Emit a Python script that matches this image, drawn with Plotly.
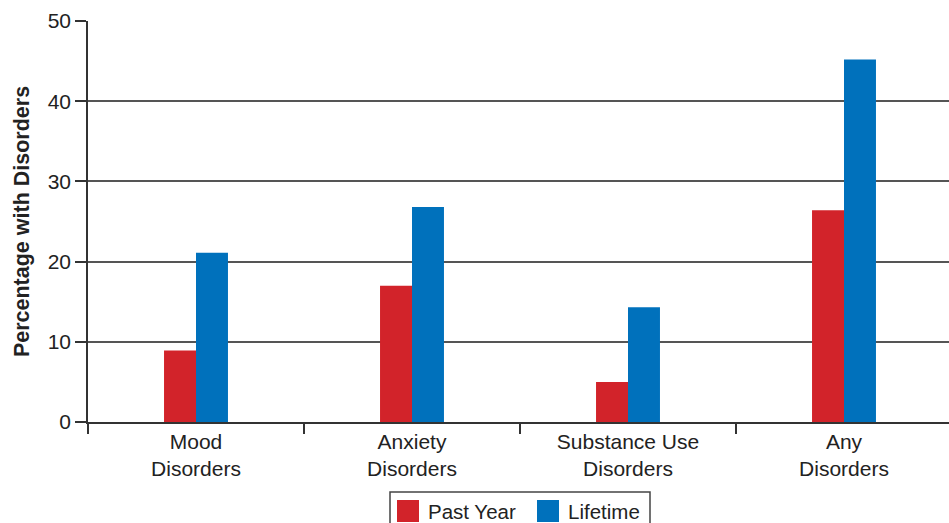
import plotly.graph_objects as go

# Prevalence of disorders (percent), past-year vs lifetime
categories = ["Mood<br>Disorders", "Anxiety<br>Disorders", "Substance Use<br>Disorders", "Any<br>Disorders"]
past_year = [8.9, 17.0, 5.0, 26.4]
lifetime = [21.1, 26.8, 14.3, 45.2]
y_ticks = [0, 10, 20, 30, 40, 50]
series_names = ["Past Year", "Lifetime"]

RED = "#D2232A"
BLUE = "#0071BC"
TEXT = "#222222"
FONT = "Liberation Sans, Arial, Helvetica, sans-serif"

W, H = 949, 523
ML, MR, MT, MB = 88, 0, 21, 101
plot_w = W - ML - MR
plot_h = H - MT - MB
cat_px = 216  # pixel width of one category slot


def px_x(px):
    return (px - ML) / plot_w


def px_y(py):
    return (H - MB - py) / plot_h


fig = go.Figure()
fig.add_trace(go.Bar(x=categories, y=past_year, name=series_names[0],
                     marker=dict(color=RED, line=dict(width=0))))
fig.add_trace(go.Bar(x=categories, y=lifetime, name=series_names[1],
                     marker=dict(color=BLUE, line=dict(width=0))))

# Legend box below the chart, with large square swatches
shapes = [dict(type="rect", xref="paper", yref="paper",
               x0=px_x(390), x1=px_x(650), y0=px_y(492), y1=px_y(532),
               line=dict(color="#444444", width=1.5), fillcolor="white")]
annotations = []
for name, color, sx in zip(series_names, [RED, BLUE], [397, 537]):
    shapes.append(dict(type="rect", xref="paper", yref="paper",
                       x0=px_x(sx), x1=px_x(sx + 22), y0=px_y(500), y1=px_y(522),
                       line=dict(width=0), fillcolor=color))
    annotations.append(dict(text=name, xref="paper", yref="paper",
                            x=px_x(sx + 29), y=px_y(511), xanchor="left", yanchor="middle",
                            showarrow=False, font=dict(size=20.5, color=TEXT)))

fig.update_layout(
    width=W, height=H,
    margin=dict(l=ML, r=MR, t=MT, b=MB, pad=0),
    paper_bgcolor="white", plot_bgcolor="white",
    barmode="group", bargap=0.704, bargroupgap=0,
    font=dict(family=FONT, size=21, color=TEXT),
    showlegend=False,
    shapes=shapes,
    annotations=annotations,
)

fig.update_xaxes(
    type="category",
    range=[-0.5, -0.5 + plot_w / cat_px],
    showgrid=False, zeroline=False,
    showline=True, linecolor="#333333", linewidth=1.5,
    ticks="outside", tickson="boundaries", ticklen=10,
    tickcolor="#333333", tickwidth=1.5,
    tickfont=dict(size=21, color=TEXT),
)
fig.update_yaxes(
    range=[0, 50], tickvals=y_ticks,
    showgrid=True, gridcolor="#555555", gridwidth=1.5,
    zeroline=False,
    showline=True, linecolor="#333333", linewidth=1.5,
    ticks="outside", ticklen=11, tickcolor="#333333", tickwidth=1.5,
    tickfont=dict(size=21, color=TEXT),
    title=dict(text="<b>Percentage with Disorders</b>",
               font=dict(size=21.5, color=TEXT), standoff=12),
)

fig.write_html("out.html")
